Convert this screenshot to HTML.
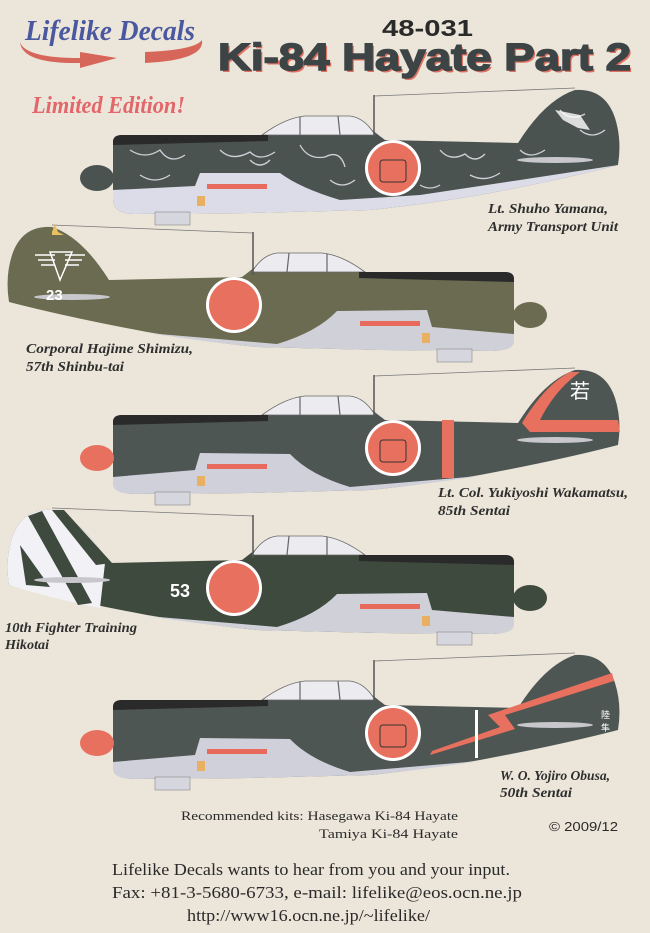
<!DOCTYPE html>
<html><head><meta charset="utf-8"><style>
html,body{margin:0;padding:0;background:#ece6da;}
svg{display:block}
.cap{font-family:"Liberation Serif",serif;font-weight:bold;font-style:italic;font-size:14px;fill:#2e2e2e}
</style></head><body>
<svg width="650" height="933" viewBox="0 0 650 933" xmlns="http://www.w3.org/2000/svg">
<defs>
<path id="F" d="M113,142 Q113,135 122,135 L268,135 L290,124 Q305,117 330,116 L350,116 Q362,118 372,130 L385,140 L518,143 Q545,100 575,90 Q605,88 615,118 Q622,140 618,165 Q560,180 480,195 Q420,205 370,210 L250,213 L135,214 Q114,214 113,200 Z"/>
<path id="U" d="M113,190 L195,186 L200,173 L280,173 Q300,188 340,200 L420,195 L520,180 L618,165 Q560,180 480,195 Q420,205 370,210 L250,213 L135,214 Q114,214 113,200 Z"/>
<path id="U2" d="M113,197 L195,190 L200,173 L290,174 Q310,195 350,207 L480,196 Q420,205 370,210 L250,213 L135,214 Q114,214 113,205 Z"/>
<g id="common">
 <path d="M262,135 Q285,118 305,116 L350,116 Q365,118 375,135 Z" fill="#ececf0" stroke="#666" stroke-width="0.8"/>
 <path d="M300,117 L300,135 M338,116 L340,135" stroke="#666" stroke-width="1.2"/>
 <path d="M113,142 Q113,135 122,135 L268,135 L268,141 L113,145Z" fill="#2a2a2a"/>
 <rect x="155" y="212" width="35" height="13" fill="#d6d6de" stroke="#888" stroke-width="0.6"/>
 <ellipse cx="555" cy="160" rx="38" ry="3" fill="#c8c8cc"/>
 <line x1="374" y1="138" x2="374" y2="95" stroke="#555" stroke-width="1.5"/>
 <line x1="374" y1="96" x2="575" y2="88" stroke="#777" stroke-width="0.8"/>
 <rect x="207" y="184" width="60" height="5" fill="#e86a5c"/>
 <rect x="197" y="196" width="8" height="10" fill="#e8b060"/>
 <circle cx="393" cy="168" r="28" fill="#fff"/>
 <circle cx="393" cy="168" r="25" fill="#e8705f"/>
</g>
</defs>

<!-- header -->
<text x="25" y="40" font-family="Liberation Serif,serif" font-weight="bold" font-style="italic" font-size="28" fill="#4a58a0" textLength="170" lengthAdjust="spacingAndGlyphs">Lifelike Decals</text>
<path d="M20,42 Q25,58 80,58 L80,52 L117,58 L80,68 L80,63 Q22,64 20,42Z" fill="#d7665a"/>
<path d="M145,52 Q195,50 202,40 Q205,60 145,63Z" fill="#d7665a"/>
<text x="32" y="113" font-family="Liberation Serif,serif" font-weight="bold" font-style="italic" font-size="24" fill="#e2666a" textLength="153" lengthAdjust="spacingAndGlyphs">Limited Edition!</text>
<text x="382" y="36" font-family="Liberation Sans,sans-serif" font-weight="bold" font-size="23" fill="#2a2a2a" textLength="91" lengthAdjust="spacingAndGlyphs">48-031</text>
<text x="220" y="72" font-family="Liberation Sans,sans-serif" font-weight="bold" font-size="38" fill="#e07060" textLength="413" lengthAdjust="spacingAndGlyphs">Ki-84 Hayate Part 2</text>
<text x="218" y="70" font-family="Liberation Sans,sans-serif" font-weight="bold" font-size="38" fill="#3d4446" stroke="#3d4446" stroke-width="1.5" textLength="413" lengthAdjust="spacingAndGlyphs">Ki-84 Hayate Part 2</text>

<!-- plane 1 -->
<g>
 <use href="#F" fill="#4b5351"/>
 <use href="#U" fill="#dcdce8"/>
 <g stroke="#e8e8ee" stroke-width="1.3" fill="none" opacity="0.85">
  <path d="M130,150 q15,10 30,0 q10,15 25,5 M220,150 q12,12 30,2 q10,10 25,0 M300,145 q8,15 25,12 q15,-8 20,10 M330,180 q12,10 25,0 M440,150 q10,12 25,4 q10,10 20,0 M470,175 q15,8 30,-2 M520,150 q10,10 25,0 M560,110 q10,12 25,4 M580,130 q12,10 25,0 M140,175 q15,10 30,0 M250,160 q10,10 20,0 M420,185 q10,6 20,0"/>
 </g>
 <path d="M555,110 l25,5 l10,15 l-12,-2 l-15,-8z" fill="#fff" opacity="0.8"/>
 <ellipse cx="97" cy="178" rx="17" ry="13" fill="#4b5351"/>
 <use href="#common"/>
 <rect x="380" y="160" width="26" height="22" rx="3" fill="none" stroke="#333" stroke-width="1"/>
</g>
<text class="cap" x="488" y="213" textLength="120" lengthAdjust="spacingAndGlyphs">Lt. Shuho Yamana,</text>
<text class="cap" x="488" y="231" textLength="130" lengthAdjust="spacingAndGlyphs">Army Transport Unit</text>

<!-- plane 2 (mirrored) -->
<g transform="translate(627,137) scale(-1,1)">
 <use href="#F" fill="#6a6b50"/>
 <use href="#U2" fill="#d0d0d8"/>
 <ellipse cx="97" cy="178" rx="17" ry="13" fill="#6a6b50"/>
 <use href="#common"/>
</g>
<text x="46" y="300" font-family="Liberation Sans,sans-serif" font-weight="bold" font-size="15" fill="#fff">23</text>
<g stroke="#fff" stroke-width="1.5" fill="none"><path d="M35,255 h20 M38,260 h17 M41,265 h14 M65,255 h20 M65,260 h17 M65,265 h14 M50,252 h22 l-12,28 z"/></g>
<path d="M52,232 l3,-8 l3,8 l6,3 l-12,0z" fill="#e8c060"/>
<text class="cap" x="26" y="353" textLength="167" lengthAdjust="spacingAndGlyphs">Corporal Hajime Shimizu,</text>
<text class="cap" x="26" y="371" textLength="98" lengthAdjust="spacingAndGlyphs">57th Shinbu-tai</text>

<!-- plane 3 -->
<g transform="translate(0,280)">
 <use href="#F" fill="#4e5653"/>
 <use href="#U2" fill="#d0d0da"/>
 <path d="M522,143 Q545,105 570,92 L580,92 Q555,110 540,140 L618,140 L620,152 L530,152z" fill="#e8705f"/>
 <rect x="442" y="140" width="12" height="58" fill="#e8705f"/>
 <ellipse cx="97" cy="178" rx="17" ry="13" fill="#e8705f"/>
 <use href="#common"/>
 <rect x="380" y="160" width="26" height="22" rx="3" fill="none" stroke="#333" stroke-width="1"/>
</g>
<text x="570" y="398" font-family="Noto Sans CJK JP,sans-serif" font-size="20" fill="#fff">若</text>
<text class="cap" x="438" y="497" textLength="190" lengthAdjust="spacingAndGlyphs">Lt. Col. Yukiyoshi Wakamatsu,</text>
<text class="cap" x="438" y="515" textLength="72" lengthAdjust="spacingAndGlyphs">85th Sentai</text>

<!-- plane 4 (mirrored) -->
<g transform="translate(627,420) scale(-1,1)">
 <use href="#F" fill="#3e4a3e"/>
 <use href="#U2" fill="#d0d0d8"/>
 <ellipse cx="97" cy="178" rx="17" ry="13" fill="#3e4a3e"/>
 <use href="#common"/>
</g>
<path d="M109,563 Q82,520 52,510 Q22,508 12,538 Q5,560 9,585 Q50,598 100,608 L105,563 Z" fill="#f2f2f6"/>
<path d="M28,516 L42,511 L92,603 L78,605Z M52,510 L64,510 L112,563 L96,565Z M20,545 L26,585 L50,587Z" fill="#3e4a3e"/>
<ellipse cx="72" cy="580" rx="38" ry="3" fill="#c8c8cc"/>
<text x="170" y="597" font-family="Liberation Sans,sans-serif" font-weight="bold" font-size="18" fill="#fff">53</text>
<text class="cap" x="5" y="632" textLength="132" lengthAdjust="spacingAndGlyphs">10th Fighter Training</text>
<text class="cap" x="5" y="649" textLength="44" lengthAdjust="spacingAndGlyphs">Hikotai</text>

<!-- plane 5 -->
<g transform="translate(0,565)">
 <use href="#F" fill="#4e5653"/>
 <use href="#U2" fill="#d0d0da"/>
 <path d="M612,108 L614,116 L505,150 L515,164 L430,190 L432,186 L500,162 L488,150z" fill="#e8705f"/>
 <rect x="475" y="145" width="3" height="48" fill="#fff"/>
 <ellipse cx="97" cy="178" rx="17" ry="13" fill="#e8705f"/>
 <use href="#common"/>
 <rect x="380" y="160" width="26" height="22" rx="3" fill="none" stroke="#333" stroke-width="1"/>
</g>
<text x="601" y="718" font-family="Noto Sans CJK JP,sans-serif" font-size="9" fill="#fff">陸</text>
<text x="601" y="731" font-family="Noto Sans CJK JP,sans-serif" font-size="9" fill="#fff">隼</text>
<text class="cap" x="500" y="780" textLength="110" lengthAdjust="spacingAndGlyphs">W. O. Yojiro Obusa,</text>
<text class="cap" x="500" y="797" textLength="72" lengthAdjust="spacingAndGlyphs">50th Sentai</text>

<!-- footer -->
<text x="181" y="820" font-family="Liberation Serif,serif" font-size="12.5" fill="#2a2a2a" textLength="277" lengthAdjust="spacingAndGlyphs">Recommended kits: Hasegawa Ki-84 Hayate</text>
<text x="319" y="838" font-family="Liberation Serif,serif" font-size="12.5" fill="#2a2a2a" textLength="139" lengthAdjust="spacingAndGlyphs">Tamiya Ki-84 Hayate</text>
<text x="549" y="831" font-family="Liberation Sans,sans-serif" font-size="12.5" fill="#2a2a2a" textLength="69" lengthAdjust="spacingAndGlyphs">© 2009/12</text>
<text x="112" y="875" font-family="Liberation Serif,serif" font-size="17" fill="#2a2a2a" textLength="398" lengthAdjust="spacingAndGlyphs">Lifelike Decals wants to hear from you and your input.</text>
<text x="112" y="898" font-family="Liberation Serif,serif" font-size="17" fill="#2a2a2a" textLength="410" lengthAdjust="spacingAndGlyphs">Fax: +81-3-5680-6733,  e-mail: lifelike@eos.ocn.ne.jp</text>
<text x="187" y="921" font-family="Liberation Serif,serif" font-size="17" fill="#2a2a2a" textLength="243" lengthAdjust="spacingAndGlyphs">http://www16.ocn.ne.jp/~lifelike/</text>
</svg>
</body></html>
